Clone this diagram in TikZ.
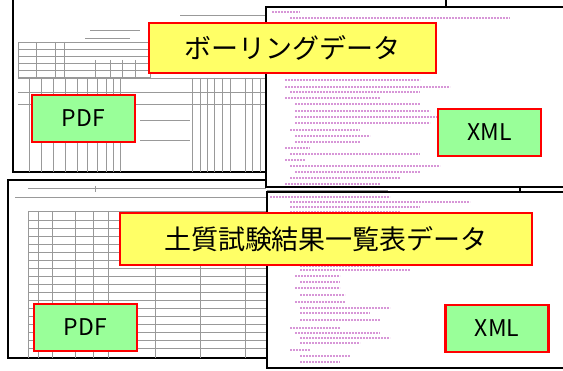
\documentclass[tikz,border=0pt]{standalone}
\usepackage{fontspec}
\setmainfont{Noto Sans CJK JP}
\definecolor{lblyellow}{RGB}{255,255,102}
\definecolor{lblgreen}{RGB}{153,255,153}
\definecolor{xmlpink}{RGB}{215,150,215}
\tikzset{
  docframe/.style={draw=black, line width=1.5pt, fill=white},
  gridline/.style={draw=black!40, line width=0.4pt},
  xmlline/.style={draw=xmlpink, line width=1.4pt, dash pattern=on 2pt off 1pt},
  lbl/.style={draw=red, line width=2.2pt, inner sep=0pt, text=black},
  titlebox/.style={lbl, fill=lblyellow, font=\fontsize{27}{30}\selectfont},
  kindbox/.style={lbl, fill=lblgreen, minimum width=103pt, minimum height=47pt, font=\fontsize{23}{25}\selectfont},
}
\begin{document}
\begin{tikzpicture}[x=1pt, y=-1pt]
\useasboundingbox (0,0) rectangle (563,371);
% ---------- top-left PDF document ----------
\draw[docframe] (13,-5) rectangle (446,172);
\foreach \y in {42,49,56,63,70} \draw[gridline] (18,\y) -- (150,\y);
\draw[gridline] (18,42) rectangle (150,77);
\foreach \x in {36,55,64} \draw[gridline] (\x,42) -- (\x,77);
\foreach \x in {95,110,122,135} \draw[gridline] (\x,60) -- (\x,77);
\draw[gridline] (18,78) -- (266,78);
\draw[gridline] (18,92) -- (266,92);
\draw[gridline] (18,104) -- (266,104);
\foreach \x in {29,41,53,65,77,87,97,106,113,120,192,200,207,214,222,230,245,252,260} \draw[gridline] (\x,78) -- (\x,172);
\draw[gridline] (140,120) -- (190,120);
\draw[gridline] (140,140) -- (190,140);
\draw[gridline] (90,30) -- (140,30);
\draw[gridline] (85,38) -- (130,38);
\draw[gridline] (180,15) -- (266,15);
% ---------- bottom-left PDF document ----------
\draw[docframe] (8,180) rectangle (520,358);
\draw[gridline] (28,188) -- (266,188);
\draw[gridline] (95,186) -- (95,192);
\draw[gridline] (15,197) -- (266,197);
\draw[gridline] (28,211) -- (266,211);
\foreach \y in {220,228,236,244,252,260,268,276,284,292,300,308,316,324,332,340,348} \draw[gridline] (28,\y) -- (266,\y);
\foreach \x in {28,38,52,75,93,108,155,200,245} \draw[gridline] (\x,211) -- (\x,358);
\draw[gridline] (267,190) -- (388,190);
% ---------- top XML document ----------
\draw[docframe] (266,7) rectangle (575,187);
\foreach \y/\a/\b in {12/272/300, 18/290/510, 23/272/330, 57/290/320, 63/295/360, 70/290/330,
  80/285/420, 87/285/450, 92/290/420, 98/285/380, 104/295/420, 111/295/430, 117/295/440,
  123/295/430, 130/290/360, 136/295/370, 142/295/360, 148/285/310, 154/290/420,
  160/285/305, 166/290/440, 172/295/420, 178/290/400, 184/285/380}
  \draw[xmlline] (\a,\y) -- (\b,\y);
% ---------- bottom XML document ----------
\draw[docframe] (267,192) rectangle (575,368);
\foreach \y/\a/\b in {197/270/390, 202/290/470, 207/290/420, 212/290/400,
  266/300/380, 270/300/410, 276/295/340, 282/300/340, 288/295/340, 295/300/345,
  302/295/345, 308/300/390, 313/300/370, 320/300/380, 328/290/340, 333/295/380,
  338/300/390, 343/300/360, 350/290/310, 356/300/350, 362/300/340}
  \draw[xmlline] (\a,\y) -- (\b,\y);
% ---------- labels ----------
\node[titlebox, minimum width=287pt, minimum height=50pt] (t1) at (292.5,48) {ボーリングデータ};
\node[kindbox] (p1) at (83.5,118.5) {PDF};
\node[kindbox] (x1) at (489.5,132.5) {XML};
\node[titlebox, minimum width=412pt, minimum height=52pt] (t2) at (326,239) {土質試験結果一覧表データ};
\node[kindbox] (p2) at (85.5,327.5) {PDF};
\node[kindbox] (x2) at (497,328.5) {XML};
\end{tikzpicture}
\end{document}
